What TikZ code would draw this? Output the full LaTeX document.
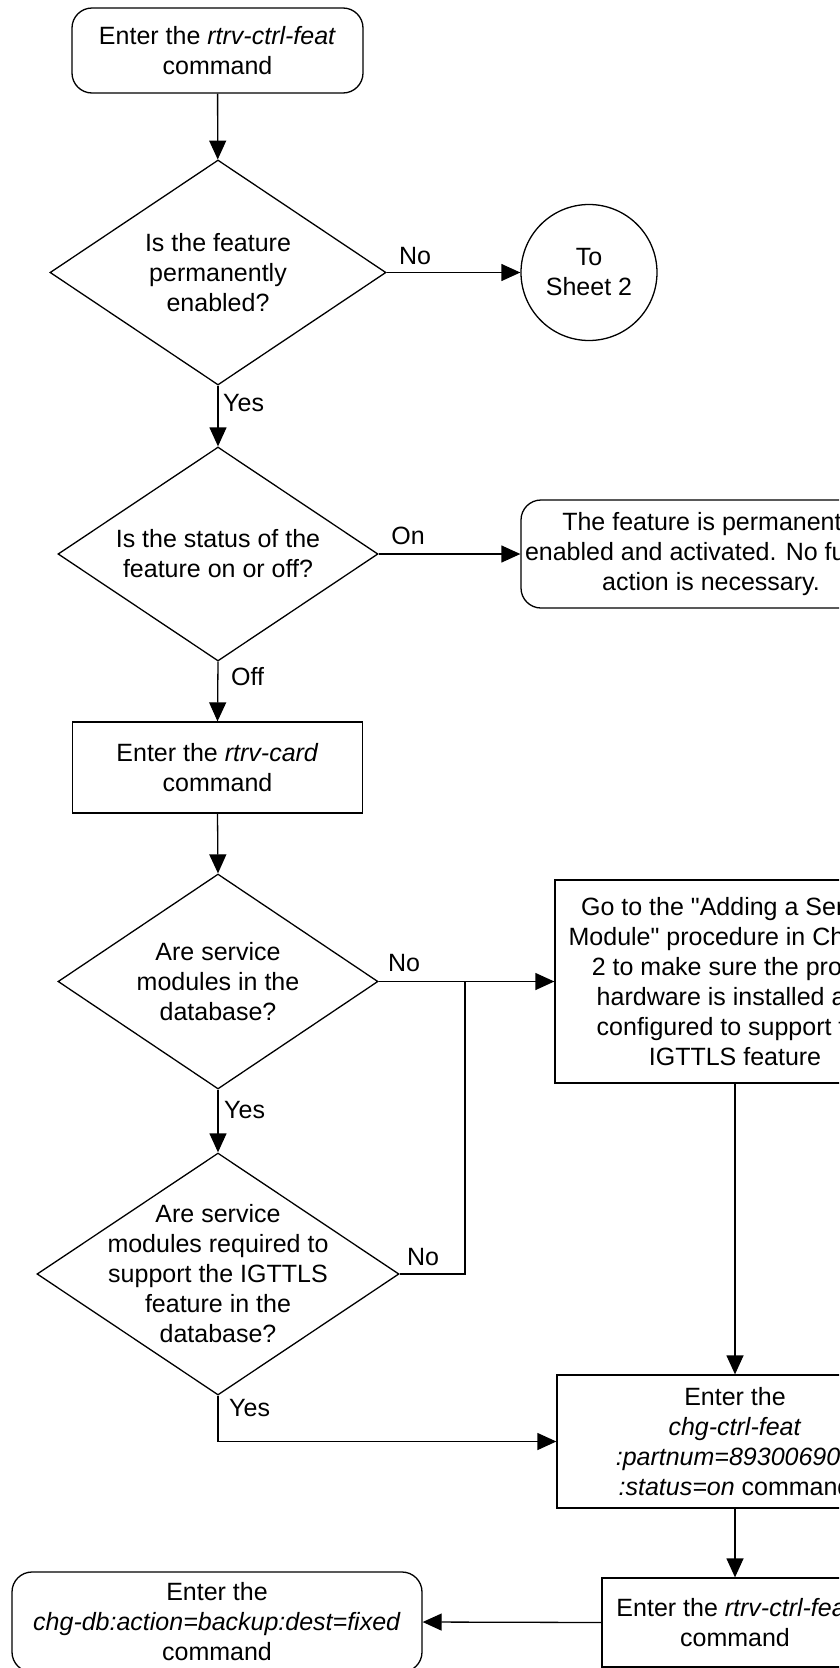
\documentclass[tikz,border=0pt]{standalone}
\usepackage{fontspec}
\setmainfont{Liberation Sans}[Ligatures=TeXOff]
\usetikzlibrary{shapes.geometric,arrows.meta}
\begin{document}
\begin{tikzpicture}[x=1pt,y=-1pt,
  every node/.style={font=\fontsize{25}{30}\selectfont, align=center, inner sep=0pt},
  proc/.style={draw, line width=1.3pt, rectangle},
  term/.style={draw, line width=1.3pt, rectangle, rounded corners=20pt},
  dec/.style={draw, line width=1.3pt, diamond},
  conn/.style={draw, line width=1.3pt, circle},
  flow/.style={line width=1.3pt, -{Triangle[length=19pt,width=17pt]}},
  plain/.style={line width=1.3pt},
  lab/.style={anchor=west}
]
\useasboundingbox (0,0) rectangle (839,1668);
\clip (0,0) rectangle (839,1668);

\node[term, minimum width=291pt, minimum height=85pt] (start) at (217.5,50.5) {Enter the \textit{rtrv-ctrl-feat}\\command};

\node[dec, minimum width=336pt, minimum height=225pt] (d1) at (218,272.5) {};
\node (d1t) at (d1) {Is the feature\\permanently\\enabled?};

\node[conn, minimum size=136pt] (sheet2) at (589,272.5) {To\\Sheet 2};

\node[dec, minimum width=320pt, minimum height=214pt] (d2) at (218,554) {};
\node (d2t) at (d2) {Is the status of the\\feature on or off?};

\node[term, minimum width=380pt, minimum height=108pt] (perm) at (711,554) {The feature is permanently\\enabled and activated. No further\\action is necessary.};

\node[proc, minimum width=290pt, minimum height=91pt] (card) at (217.5,767.5) {Enter the \textit{rtrv-card}\\command};

\node[dec, minimum width=320pt, minimum height=215pt] (d3) at (218,981.5) {};
\node (d3t) at (d3) {Are service\\modules in the\\database?};

\node[proc, minimum width=360pt, minimum height=203pt] (addsm) at (735,981.5) {Go to the "Adding a Service\\Module" procedure in Chapter\\2 to make sure the proper\\hardware is installed and\\configured to support the\\IGTTLS feature};

\node[dec, minimum width=362pt, minimum height=242pt] (d4) at (218,1274) {};
\node (d4t) at (d4) {Are service\\modules required to\\support the IGTTLS\\feature in the\\database?};

\node[proc, minimum width=356pt, minimum height=133pt] (chg) at (735,1441.5) {Enter the\\\textit{chg-ctrl-feat}\\\textit{:partnum=893006901}\\\textit{:status=on} command};

\node[proc, minimum width=266pt, minimum height=89pt] (rtrv2) at (735,1622.5) {Enter the \textit{rtrv-ctrl-feat}\\command};

\node[term, minimum width=410pt, minimum height=100pt] (backup) at (217,1622) {Enter the\\\textit{chg-db:action=backup:dest=fixed}\\command};

\coordinate (j1) at (465,981.5);
\coordinate (j2) at (465,1274);

\draw[flow] (start) -- (d1);
\draw[flow] (d1.east) -- (sheet2.west);
\node (lno1) at (415,256) {No};
\draw[flow] (d1.south) -- (d2.north);
\node[lab] (lyes1) at (223,403) {Yes};
\draw[flow] (d2.east) -- (perm.west);
\node (lon) at (408,536) {On};
\draw[flow] (d2.south) -- (card.north);
\node[lab] (loff) at (231,677) {Off};
\draw[flow] (card.south) -- (d3.north);
\draw[flow] (d3.east) -- (addsm.west);
\node (lno2) at (404,963) {No};
\draw[flow] (d3.south) -- (d4.north);
\node[lab] (lyes2) at (224,1110) {Yes};
\draw[plain] (d4.east) -- (j2) -- (j1);
\node (lno3) at (423,1257) {No};
\draw[flow] (d4.south) |- (chg.west);
\node[lab] (lyes3) at (229,1408) {Yes};
\draw[flow] (addsm.south) -- (chg.north);
\draw[flow] (chg.south) -- (rtrv2.north);
\draw[flow] (rtrv2.west) -- (backup.east);
\end{tikzpicture}
\end{document}
